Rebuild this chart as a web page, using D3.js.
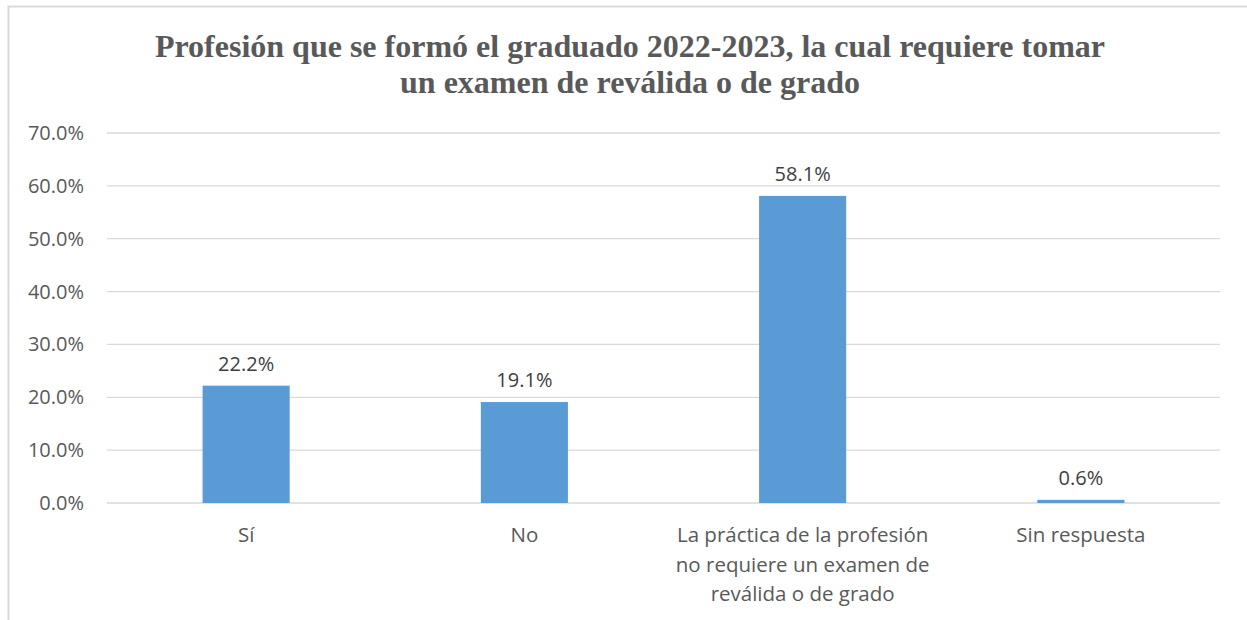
<!DOCTYPE html>
<html>
<head>
<meta charset="utf-8">
<script src="https://cdn.jsdelivr.net/npm/d3@7"></script>
<style>
  body { margin: 0; background: #fff; }
  svg { display: block; }
</style>
</head>
<body>
<svg id="chart" width="1247" height="620"></svg>
<script>
var categories = [
  ["Sí"],
  ["No"],
  ["La práctica de la profesión", "no requiere un examen de", "reválida o de grado"],
  ["Sin respuesta"]
];
var values = [22.2, 19.1, 58.1, 0.6];
var yTicks = [0, 10, 20, 30, 40, 50, 60, 70];
var titleLines = [
  "Profesión que se formó el graduado 2022-2023, la cual requiere tomar",
  "un examen de reválida o de grado"
];

var svg = d3.select("#chart");
var plotLeft = 107, plotRight = 1220, plotTop = 133, plotBottom = 503;
var labelFont = "'Open Sans', Lato, sans-serif";

// chart border
svg.append("rect")
  .attr("x", 8.5).attr("y", 6.5)
  .attr("width", 1260).attr("height", 640)
  .attr("fill", "none")
  .attr("stroke", "#d9d9d9")
  .attr("stroke-width", 2);

var x = d3.scaleBand()
  .domain(d3.range(categories.length))
  .range([plotLeft, plotRight])
  .paddingInner(0.687)
  .paddingOuter(0.3435);

var y = d3.scaleLinear()
  .domain([0, 70])
  .range([plotBottom, plotTop]);

// gridlines
svg.append("g").selectAll("line")
  .data(yTicks)
  .enter()
  .append("line")
  .attr("x1", plotLeft).attr("x2", plotRight)
  .attr("y1", function(d) { return y(d); })
  .attr("y2", function(d) { return y(d); })
  .attr("stroke", "#d9d9d9")
  .attr("stroke-width", 1.3);

// y tick labels
svg.append("g").selectAll("text")
  .data(yTicks)
  .enter()
  .append("text")
  .attr("x", 84)
  .attr("y", function(d) { return y(d); })
  .attr("dy", "0.35em")
  .attr("text-anchor", "end")
  .attr("font-family", labelFont)
  .attr("font-size", 20)
  .attr("fill", "#595959")
  .text(function(d) { return d.toFixed(1) + "%"; });

// bars
svg.append("g").selectAll("rect")
  .data(values)
  .enter()
  .append("rect")
  .attr("x", function(d, i) { return x(i); })
  .attr("width", x.bandwidth())
  .attr("y", function(d) { return y(d); })
  .attr("height", function(d) { return y(0) - y(d); })
  .attr("fill", "#5b9bd5");

// value labels
svg.append("g").selectAll("text")
  .data(values)
  .enter()
  .append("text")
  .attr("x", function(d, i) { return x(i) + x.bandwidth() / 2; })
  .attr("y", function(d) { return y(d) - 15; })
  .attr("text-anchor", "middle")
  .attr("font-family", labelFont)
  .attr("font-size", 20)
  .attr("fill", "#404040")
  .text(function(d) { return d.toFixed(1) + "%"; });

// category labels
var cat = svg.append("g").selectAll("text")
  .data(categories)
  .enter()
  .append("text")
  .attr("text-anchor", "middle")
  .attr("font-family", labelFont)
  .attr("font-size", 20.5)
  .attr("fill", "#595959");

cat.selectAll("tspan")
  .data(function(d, i) { return d.map(function(t) { return { t: t, i: i }; }); })
  .enter()
  .append("tspan")
  .attr("x", function(d) { return x(d.i) + x.bandwidth() / 2; })
  .attr("y", function(d, j) { return 542 + j * 29.5; })
  .text(function(d) { return d.t; });

// title
svg.append("text")
  .attr("text-anchor", "middle")
  .attr("font-family", "'Liberation Serif', 'Times New Roman', serif")
  .attr("font-weight", "bold")
  .attr("font-size", 32)
  .attr("fill", "#595959")
  .selectAll("tspan")
  .data(titleLines)
  .enter()
  .append("tspan")
  .attr("x", 630)
  .attr("y", function(d, i) { return 57 + i * 36; })
  .text(function(d) { return d; });
</script>
</body>
</html>
